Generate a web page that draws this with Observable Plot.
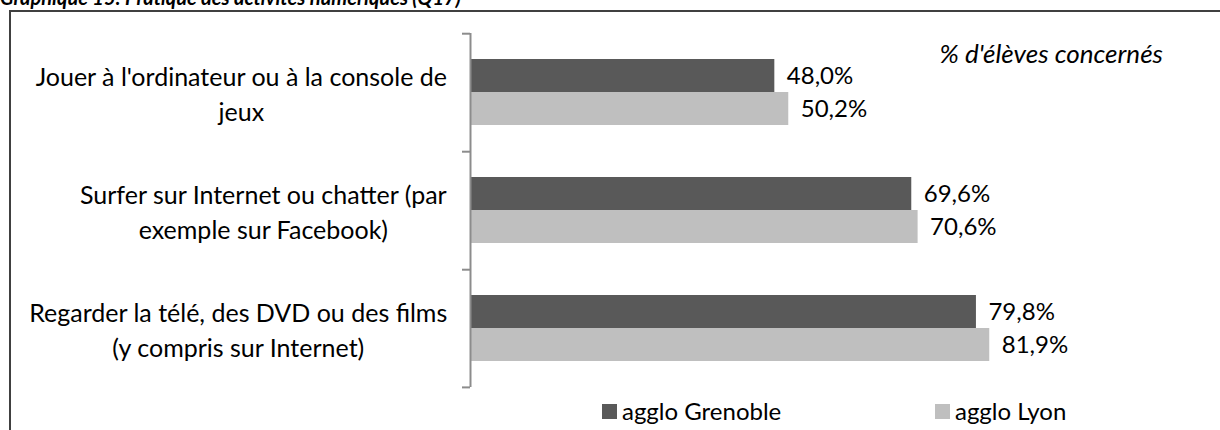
<!DOCTYPE html>
<html><head><meta charset="utf-8">
<script src="https://cdn.jsdelivr.net/npm/d3@7"></script>
<script src="https://cdn.jsdelivr.net/npm/@observablehq/plot@0.6"></script>
<style>
html,body{margin:0;padding:0;background:#fff;}
#wrap{position:relative;width:1220px;height:430px;overflow:hidden;font-family:Lato,"Open Sans",sans-serif;color:#000;}
#title{position:absolute;left:0;top:-13px;font-size:20px;font-weight:bold;font-style:italic;line-height:20px;white-space:nowrap;}
#chart{position:absolute;left:0;top:0;}
#frame{position:absolute;left:9px;top:10px;width:1400px;height:600px;border:2px solid #404040;box-sizing:border-box;pointer-events:none;}
#note{position:absolute;right:57px;top:40px;font-size:26px;font-style:italic;line-height:26px;white-space:nowrap;}
.leg{position:absolute;top:398px;font-size:24px;line-height:26px;white-space:nowrap;display:flex;align-items:center;}
.leg span.sw{display:inline-block;width:15px;height:15px;margin-right:5px;}
</style></head>
<body><div id="wrap">
<div id="title"></div>
<div id="chart"></div>
<div id="note"></div>
<div id="legend"></div>
<div id="frame"></div>
</div>
<script>
const titleText = "Graphique 15: Pratique des activités numériques (Q17)";
const noteText = "% d'élèves concernés";
const categories = [
  "Jouer à l'ordinateur ou à la console de jeux",
  "Surfer sur Internet ou chatter (par exemple sur Facebook)",
  "Regarder la télé, des DVD ou des films (y compris sur Internet)"
];
const labelLines = [
  ["Jouer à l'ordinateur ou à la console de", "jeux"],
  ["Surfer sur Internet ou chatter (par", "exemple sur Facebook)"],
  ["Regarder la télé, des DVD ou des films", "(y compris sur Internet)"]
];
const series = ["agglo Grenoble", "agglo Lyon"];
const grenoble = [48.0, 69.6, 79.8];
const lyon = [50.2, 70.6, 81.9];
const colors = ["#595959", "#bfbfbf"];

const rows = [];
categories.forEach((c, i) => {
  rows.push({cat: c, series: series[0], value: grenoble[i]});
  rows.push({cat: c, series: series[1], value: lyon[i]});
});

const fmt = v => d3.format(".1f")(v).replace(".", ",") + "%";
const FONT = "Lato";
const labelSize = 25;

const canvas = document.createElement("canvas");
const ctx = canvas.getContext("2d");
ctx.font = `${labelSize}px ${FONT}`;

const labelMarks = categories.map((c, i) => {
  const w1 = ctx.measureText(labelLines[i][0]).width;
  return Plot.text([c], {
    fy: d => d,
    text: () => labelLines[i].join("\n"),
    frameAnchor: "left",
    textAnchor: "middle",
    dx: -(23 + w1 / 2),
    lineHeight: 35 / labelSize,
    fontSize: labelSize,
    fill: "#000"
  });
});

const chart = Plot.plot({
  width: 1220,
  height: 430,
  marginTop: 32,
  marginBottom: 42,
  marginLeft: 470,
  marginRight: 116,
  style: {fontFamily: FONT, fontSize: "22px", background: "transparent", color: "#000"},
  x: {domain: [0, 100], axis: null},
  fy: {domain: categories, padding: 0, axis: null, label: null},
  y: {domain: series, paddingInner: 0, paddingOuter: 0.745, align: 0.5, axis: null},
  color: {domain: series, range: colors},
  marks: [
    Plot.barX(rows, {fy: "cat", y: "series", x: "value", fill: "series"}),
    Plot.text(rows, {fy: "cat", y: "series", x: "value", text: d => fmt(d.value), textAnchor: "start", dx: 12, fontSize: 24, fill: "#000"}),
    Plot.ruleX([0], {stroke: "#8c8c8c", strokeWidth: 2}),
    Plot.ruleY(categories, {fy: d => d, y: () => series[0], x1: 0, x2: 0, insetLeft: -8, dy: -42.3, stroke: "#8c8c8c", strokeWidth: 2}),
    Plot.ruleY([categories[categories.length - 1]], {fy: d => d, y: () => series[1], x1: 0, x2: 0, insetLeft: -8, dy: 42.4, stroke: "#8c8c8c", strokeWidth: 2}),
    ...labelMarks
  ]
});
document.getElementById("chart").appendChild(chart);
document.getElementById("title").textContent = titleText;
document.getElementById("note").textContent = noteText;

const legendX = [602, 935];
const leg = document.getElementById("legend");
series.forEach((s, i) => {
  const d = document.createElement("div");
  d.className = "leg";
  d.style.left = legendX[i] + "px";
  const sw = document.createElement("span");
  sw.className = "sw";
  sw.style.background = colors[i];
  d.appendChild(sw);
  d.appendChild(document.createTextNode(s));
  leg.appendChild(d);
});
</script>
</body></html>
